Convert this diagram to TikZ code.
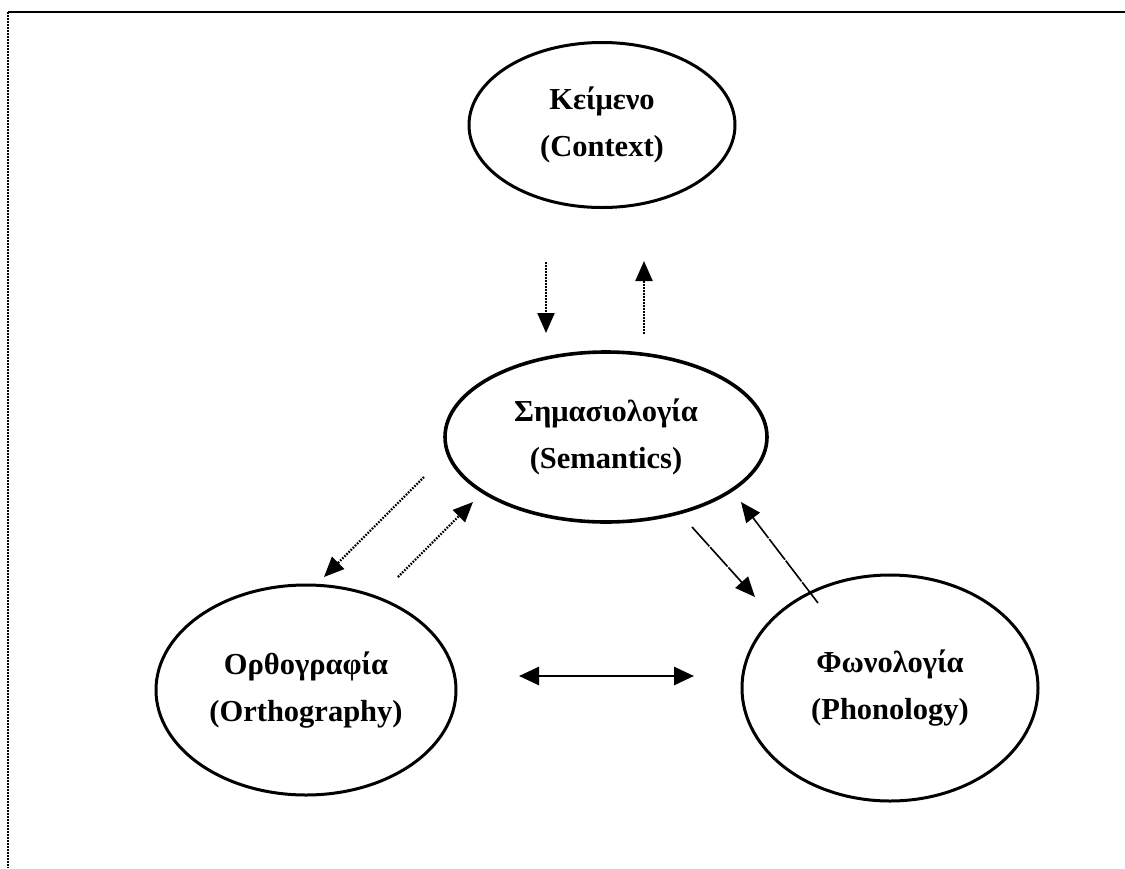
\documentclass[tikz,border=0pt]{standalone}
\usepackage{fontspec}
\setmainfont{Liberation Serif}
\usetikzlibrary{shapes.geometric,arrows.meta}
\begin{document}
\begin{tikzpicture}[x=1pt,y=-1pt,
  bubble/.style={draw,ellipse,line width=3pt,inner sep=0pt,align=center,
    font=\fontsize{30.5}{47}\selectfont\bfseries},
  dotarrow/.style={line width=2.2pt,dash pattern=on 1.6pt off 1.4pt,
    -{Triangle[length=20pt,width=17pt]}},
  thinarrow/.style={line width=1.6pt,dash pattern=on 26pt off 1.2pt,
    -{Triangle[length=20pt,width=17pt]}},
  twoway/.style={line width=2.8pt,{Triangle[length=20pt,width=18pt]}-{Triangle[length=20pt,width=18pt]}}]
\useasboundingbox (0,0) rectangle (1125,868);
% frame
\draw[line width=2pt] (8,12) -- (1125,12);
\draw[line width=2pt,dash pattern=on 1.5pt off 1.5pt] (8,12) -- (8,868);
% nodes
\node[bubble,minimum width=266pt,minimum height=165pt] (ctx) at (602,125) {Κείμενο\\(Context)};
\node[bubble,line width=3.6pt,minimum width=322pt,minimum height=170pt] (sem) at (606,437) {Σημασιολογία\\(Semantics)};
\node[bubble,minimum width=300pt,minimum height=210pt] (orth) at (306,690) {Ορθογραφία\\(Orthography)};
\node[bubble,minimum width=296pt,minimum height=226pt] (phon) at (890,688) {Φωνολογία\\(Phonology)};
% connector end points
\coordinate (a1) at (546,262); \coordinate (a2) at (546,333);
\coordinate (b1) at (644,334); \coordinate (b2) at (644,261);
\coordinate (c1) at (424,477); \coordinate (c2) at (324,577);
\coordinate (d1) at (398,577); \coordinate (d2) at (473,502);
\coordinate (e1) at (692,527); \coordinate (e2) at (755,597);
\coordinate (f1) at (818,603); \coordinate (f2) at (741,502);
\coordinate (g1) at (519,676); \coordinate (g2) at (694,676);
% connectors
\draw[dotarrow] (a1) -- (a2);
\draw[dotarrow] (b1) -- (b2);
\draw[dotarrow] (c1) -- (c2);
\draw[dotarrow] (d1) -- (d2);
\draw[thinarrow] (e1) -- (e2);
\draw[thinarrow] (f1) -- (f2);
\draw[twoway] (g1) -- (g2);
\end{tikzpicture}
\end{document}
